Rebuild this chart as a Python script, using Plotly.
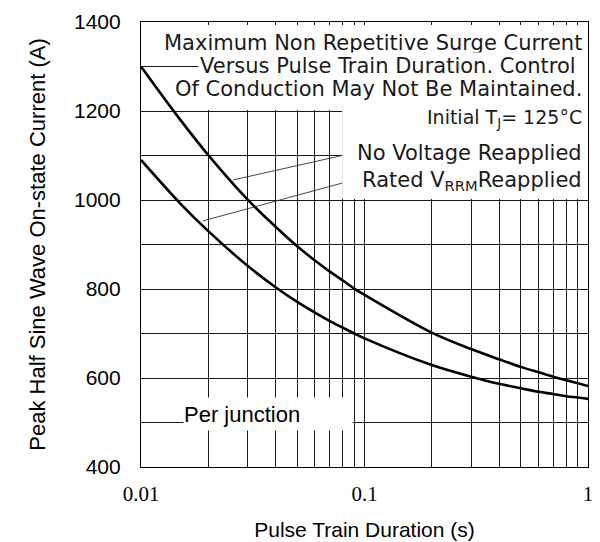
import math
import plotly.graph_objects as go

# Pulse train duration (s)
duration = [0.01, 0.015, 0.02, 0.03, 0.04, 0.05, 0.06, 0.07, 0.08, 0.09, 0.1,
            0.2, 0.3, 0.4, 0.5, 0.6, 0.7, 0.8, 0.9, 1.0]
# Peak half sine wave on-state current (A)
no_voltage = [1300, 1180, 1101, 1001, 940, 896, 864, 839, 819, 801, 787,
              702, 665, 642, 625, 613, 603, 595, 588, 582]
rated_vrrm = [1090, 992, 930, 852, 804, 771, 747, 728, 713, 700, 689,
              629, 603, 587, 577, 569, 564, 559, 556, 553]

x_ticks = [0.01, 0.1, 1]
x_tick_text = ["0.01", "0.1", "1"]
x_minor = [m * d for d in (0.01, 0.1) for m in range(2, 10)]
y_ticks = [400, 600, 800, 1000, 1200, 1400]

fig = go.Figure()
for vals, name in ((no_voltage, "No Voltage Reapplied"), (rated_vrrm, "Rated VRRM Reapplied")):
    fig.add_trace(go.Scatter(x=duration, y=vals, mode="lines", name=name,
                             line=dict(color="black", width=2.6, shape="spline", smoothing=1.0),
                             showlegend=False, hoverinfo="x+y"))

GRID = "#1a1a1a"
fig.update_xaxes(type="log", range=[-2, 0], tickvals=x_ticks, ticktext=x_tick_text,
                 showgrid=True, gridcolor=GRID, gridwidth=1.2,
                 minor=dict(tickmode="array", tickvals=x_minor, showgrid=True,
                            gridcolor=GRID, gridwidth=1.2, ticks=""),
                 showline=True, linecolor="black", linewidth=1.2, mirror=True,
                 ticks="", ticklabelstandoff=8, automargin=False,
                 tickfont=dict(family="Liberation Serif, Times New Roman, serif", size=21, color="black"),
                 title=dict(text="Pulse Train Duration (s)", standoff=17,
                            font=dict(family="Liberation Sans, Arial, sans-serif", size=21, color="black")),
                 zeroline=False)
fig.update_yaxes(range=[400, 1400], tickvals=y_ticks,
                 showgrid=True, gridcolor=GRID, gridwidth=1.2,
                 minor=dict(dtick=100, showgrid=True, gridcolor=GRID, gridwidth=1.2, ticks=""),
                 showline=True, linecolor="black", linewidth=1.2, mirror=True,
                 ticks="", ticklabelstandoff=15, automargin=False,
                 tickfont=dict(family="Liberation Sans, Arial, sans-serif", size=21, color="black"),
                 title=dict(text="Peak Half Sine Wave On-state Current (A)", standoff=22,
                            font=dict(family="Liberation Sans, Arial, sans-serif", size=22, color="black")),
                 zeroline=False)

shapes = [
    # white masks hiding the grid behind the header text
    dict(type="rect", xref="x", yref="y", x0=0.01, x1=0.0794, y0=1202, y1=1393,
         fillcolor="white", line=dict(width=0), layer="between"),
    dict(type="rect", xref="x", yref="y", x0=0.0794, x1=1, y0=1002, y1=1393,
         fillcolor="white", line=dict(width=0), layer="between"),
    # remaining fragments of grid near header
    dict(type="line", xref="x", yref="y", x0=0.01, x1=0.02, y0=1300, y1=1300,
         line=dict(color=GRID, width=1.2), layer="between"),
    dict(type="line", xref="x", yref="y", x0=0.02, x1=0.02, y0=1272, y1=1320,
         line=dict(color=GRID, width=1.2), layer="between"),
    # leader lines
    dict(type="line", xref="x", yref="y", x0=0.0258, x1=0.0794, y0=1045, y1=1100,
         line=dict(color="#333", width=0.9), layer="above"),
    dict(type="line", xref="x", yref="y", x0=0.0189, x1=0.0794, y0=953, y1=1038,
         line=dict(color="#333", width=0.9), layer="above"),
]
fig.update_layout(shapes=shapes)

HF = dict(family="DejaVu Sans, Verdana, sans-serif", size=21, color="#1a1a1a")
HF2 = dict(family="DejaVu Sans, Verdana, sans-serif", size=19, color="#1a1a1a")
head = [
    ("Maximum Non Repetitive Surge Current", 1353, 0, HF),
    ("Versus Pulse Train Duration. Control", 1301, -6, HF),
    ("Of Conduction May Not Be Maintained.", 1249, 0, HF),
    ("Initial T<sub>J</sub>= 125°C", 1184, 0, HF2),
    ("No Voltage Reapplied", 1106, 0, HF),
    ("Rated V<sub>RRM</sub>Reapplied", 1043, 0, HF),
]
for txt, yv, xs, f in head:
    fig.add_annotation(text=txt, xref="paper", yref="y", x=1, y=yv, xanchor="right",
                       yanchor="middle", xshift=-4 + xs, showarrow=False, bgcolor="white",
                       borderpad=1, font=f)

# annotation x on a log axis is given in log10 units
fig.add_annotation(text="Per junction", xref="x", yref="y", x=math.log10(0.0154), y=519,
                   xanchor="left", yanchor="middle", showarrow=False, bgcolor="white",
                   width=168, height=32, align="left", borderpad=0,
                   font=dict(family="Liberation Sans, Arial, sans-serif", size=22, color="black"))

fig.update_layout(width=600, height=542, margin=dict(l=141, r=12, t=22, b=75),
                  plot_bgcolor="white", paper_bgcolor="white")

fig.write_html("out.html", config={"displayModeBar": False},
               post_script="document.body.style.margin='0px';document.body.style.overflow='hidden';")
